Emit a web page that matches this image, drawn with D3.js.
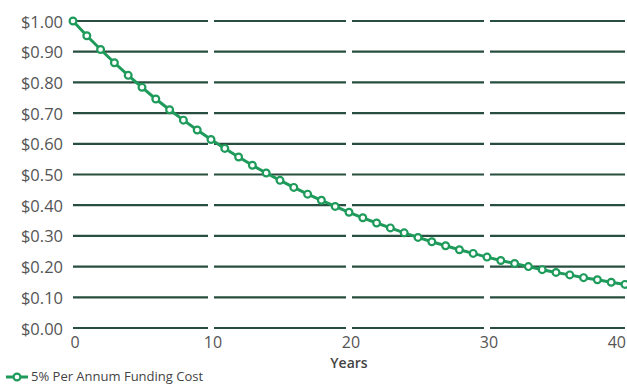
<!DOCTYPE html>
<html><head><meta charset="utf-8">
<script src="https://cdn.jsdelivr.net/npm/d3@7"></script>
<style>body{margin:0;background:#fff}svg{display:block}text{font-family:"Open Sans",sans-serif}</style>
</head><body>
<svg id="c" width="627" height="385"></svg>
<script>
const years = d3.range(0, 41);
const values = [1.000,0.952,0.907,0.864,0.823,0.784,0.746,0.711,0.677,0.645,0.614,0.585,0.557,0.530,0.505,0.481,0.458,0.436,0.416,0.396,0.377,0.359,0.342,0.326,0.310,0.295,0.281,0.268,0.255,0.243,0.231,0.220,0.210,0.200,0.190,0.181,0.173,0.164,0.157,0.149,0.142];
const yTicks = [0,0.1,0.2,0.3,0.4,0.5,0.6,0.7,0.8,0.9,1.0];
const xTicks = [0,10,20,30,40];
const seriesName = "5% Per Annum Funding Cost";
const xTitle = "Years";

const svg = d3.select("#c");
const x = d3.scaleLinear().domain([0,40]).range([73,625]);
const y = d3.scaleLinear().domain([0,1]).range([328,21]);
const green = "#1e9b5b", grid = "#274e3e";

const segs = [[0,10],[10,20],[20,30],[30,40]];
yTicks.forEach(t=>{
  segs.forEach(([a,b])=>{
    svg.append("line").attr("x1", x(a)+(a===0?0:3)).attr("x2", x(b)-(b===40?0:3))
      .attr("y1", y(t)).attr("y2", y(t)).attr("stroke", grid).attr("stroke-width", 2.2);
  });
});
svg.selectAll(".yl").data(yTicks).join("text").attr("x",63).attr("y",d=>y(d))
  .attr("text-anchor","end").attr("dominant-baseline","central").attr("font-size",16.5).attr("fill","#555")
  .text(d=>"$"+d.toFixed(2));
svg.selectAll(".xl").data(xTicks).join("text").attr("x",d=>Math.min(x(d)+2, 626))
  .attr("y",342)
  .attr("text-anchor",d=>x(d)+12>627?"end":"middle").attr("dominant-baseline","central").attr("font-size",16).attr("fill","#555")
  .text(d=>d);
svg.append("text").attr("x",x(20)).attr("y",362).attr("text-anchor","middle").attr("dominant-baseline","central")
  .attr("font-size",14).attr("font-weight",600).attr("fill","#444").text(xTitle);

const line = d3.line().x((d,i)=>x(years[i])).y(d=>y(d));
svg.append("path").datum(values).attr("d",line).attr("fill","none").attr("stroke",green).attr("stroke-width",3);
svg.selectAll(".pt").data(values).join("circle").attr("cx",(d,i)=>x(years[i])).attr("cy",d=>y(d)).attr("r",3.4)
  .attr("fill","#fff").attr("stroke",green).attr("stroke-width",2.2);

svg.append("line").attr("x1",6).attr("x2",28).attr("y1",377).attr("y2",377).attr("stroke",green).attr("stroke-width",3);
svg.append("circle").attr("cx",17).attr("cy",377).attr("r",3.4).attr("fill","#fff").attr("stroke",green).attr("stroke-width",2.2);
svg.append("text").attr("x",31).attr("y",376).attr("dominant-baseline","central").attr("font-size",13).attr("fill","#444").text(seriesName);
</script>
</body></html>
